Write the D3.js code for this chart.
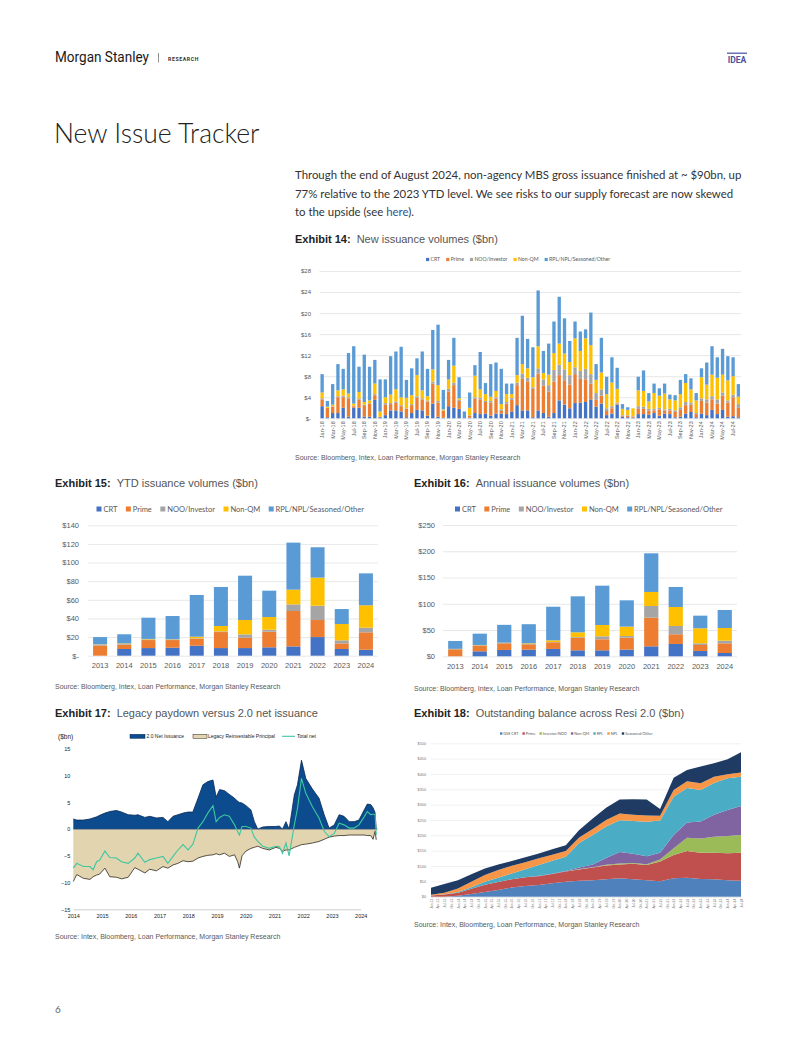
<!DOCTYPE html>
<html><head><meta charset="utf-8">
<script src="https://cdn.jsdelivr.net/npm/d3@7"></script>
<style>
body{margin:0;background:#fff;}
svg{display:block;font-family:Lato,"Noto Sans",sans-serif;}
</style></head><body>
<svg id="page" width="802" height="1037"></svg>
<script>
// ---- shared series ----
var seriesNames = ["CRT","Prime","NOO/Investor","Non-QM","RPL/NPL/Seasoned/Other"];
var seriesColors = ["#4472C4","#ED7D31","#A5A5A5","#FFC000","#5B9BD5"];

// ---- Exhibit 14: monthly new issuance, Jan-18 .. Aug-24 ($bn) ----
var months14 = d3.timeMonth.range(new Date(2018,0,1), new Date(2024,8,1));
var crt14 = [2.3,0.2,1.0,1.0,2.0,0.3,2.0,2.0,0.3,0.3,3.5,0.2, 0.6,1.5,1.5,1.3,0.2,1.0,1.6,1.5,0.5,2.8,0.3,0.1,
  2.3,2.0,1.8,0,0.1,1.0,0.8,0.9,0.5,0.9,0.9,0.8, 1.3,2.5,1.5,1.5,0.2,1.5,1.0,0.3,1.0,3.4,2.6,1.9,
  2.9,3.0,3.1,3.6,2.2,2.8,0.6,0.9,2.6,0.3,0.2,0.1, 0.8,0.8,0.7,1.0,0.5,0.9,0.8,0.2,0.3,0.9,1.2,0.2,
  0.9,0.6,1.6,0.8,1.6,0.3,0.4,0.2];
var prime14 = [1.3,1.8,1.2,3.0,2.0,3.5,0.3,1.6,2.2,2.5,0.9,0.1, 2.0,1.2,1.4,1.0,1.6,1.5,2.3,2.1,2.7,3.8,2.7,1.3,
  2.8,4.3,1.5,0,0.4,2.7,2.8,2.2,2.5,2.8,0.5,2.0, 2.2,3.8,6.0,5.5,5.4,7.0,5.2,4.8,6.0,4.8,4.5,4.5,
  5.5,4.5,4.3,3.0,1.3,1.5,0.8,1.0,0.2,0.2,0.3,0.2, 1.0,1.0,0.8,0.5,1.2,0.6,0.7,1.0,1.3,1.6,1.4,0.6,
  2.4,2.4,2.0,2.0,2.7,2.7,3.6,1.8];
var noo14 = [0.2,0,0.1,0.2,0.3,0.2,0.1,0.2,0.1,0.1,0.2,0, 0.3,0.2,0.3,0.2,0.1,0.2,0.3,0.2,0.2,0.4,0.3,0.1,
  0.5,0.5,0.2,0,0.1,0.3,0.3,0.2,0.3,0.3,0.3,0.3, 0.4,0.5,1.0,0.7,0.3,1.0,1.2,1.2,2.2,2.0,2.2,1.8,
  1.3,1.5,2.0,1.8,1.3,1.2,0.5,0.4,0.2,0.1,0.1,0.1, 0.5,0.4,0.3,0.3,0.3,0.2,0.3,0.3,0.5,0.6,0.4,0.2,
  0.5,0.6,0.6,0.8,0.6,0.4,0.5,0.7];
var nonqm14 = [1.1,0.2,0.3,1.1,1.2,0.7,0.4,1.2,0.5,0.5,2.0,1.0, 1.1,1.6,2.3,1.5,2.0,1.7,4.0,1.5,0.8,2.3,3.0,0.2,
  1.8,3.2,0.3,0,1.4,4.1,1.6,1.3,0.8,1.2,1.0,1.5, 0.7,1.4,1.8,1.8,1.9,4.2,1.2,2.0,3.2,4.0,3.0,2.5,
  5.5,3.8,5.8,5.5,2.5,3.2,2.7,4.5,2.6,1.2,1.0,1.5, 3.0,3.0,1.4,3.0,2.3,3.0,1.8,1.9,2.5,3.6,2.5,2.4,
  4.0,2.8,4.1,4.1,3.4,3.8,3.5,1.4];
var rpl14 = [3.5,1.1,3.9,5.0,3.9,7.7,10.9,4.8,9.0,6.4,4.5,6.1, 3.4,7.3,7.2,9.6,3.4,5.1,3.2,7.4,5.2,7.5,11.5,3.7,
  3.7,5.3,4.0,1.3,2.9,2.0,7.1,2.1,6.2,5.4,6.7,2.0, 2.0,7.1,9.2,5.6,5.7,10.6,4.2,5.9,6.0,8.9,6.7,4.0,
  3.2,3.7,1.7,6.2,3.0,6.6,3.3,4.8,4.0,0.9,0.5,0, 2.6,3.9,1.6,1.8,1.4,1.9,0.9,1.0,2.7,1.7,2.1,1.4,
  1.7,4.2,5.4,3.9,4.9,4.6,3.6,2.4];
var ticks14 = [0,4,8,12,16,20,24,28];

// ---- Exhibit 15 / 16: YTD and annual ($bn) ----
var years = ["2013","2014","2015","2016","2017","2018","2019","2020","2021","2022","2023","2024"];
var crtYtd   = [0,7.2,8.2,8.6,10.7,8.2,8.2,9.0,10.0,20.0,7.2,6.4];
var primeYtd = [11,4.6,8.6,8.2,7.6,17.2,11.1,16.8,38,18.3,6,18.7];
var nooYtd   = [1,0.7,0.7,0.4,0.4,0.7,3.6,2.1,7.1,15.4,3.3,5];
var nonqmYtd = [0.3,0.7,0.5,0.4,1.7,5.8,15.4,13.6,15.8,30.1,17.5,24];
var rplYtd   = [7.7,9.8,22.8,25,44.8,41.9,47.6,28.3,50.5,32.6,16.1,34.3];
var ticksYtd = [0,20,40,60,80,100,120,140];

var crtAnn   = [0,9.5,12.1,12.7,14,11.4,11.4,12.7,19,23.5,10.2,6.3];
var primeAnn = [13.3,10.2,12.6,10.1,12.6,24.1,21,22.8,54.6,18.4,11.4,18.4];
var nooAnn   = [0.5,1.3,0.6,0.6,0.6,1.3,5.7,3.2,22.2,15.8,3.1,5.1];
var nonqmAnn = [0.4,0.6,0.6,1.3,3.2,8.9,21.5,17.8,26.7,36.2,28.6,24.1];
var rplAnn   = [15,21.5,34,36.4,64,68.5,74.9,50.1,73.6,38.1,24.1,34.3];
var ticksAnn = [0,50,100,150,200,250];

// ---- Exhibit 17: legacy paydown vs 2.0 net issuance ($bn) ----
var t17 = [2014.00,2014.12,2014.35,2014.58,2014.69,2014.81,2014.92,2015.10,2015.27,2015.50,2015.68,2015.91,
  2016.14,2016.25,2016.49,2016.66,2016.89,2017.12,2017.29,2017.47,2017.64,2017.82,2017.99,2018.16,2018.34,
  2018.51,2018.68,2018.86,2018.97,2019.09,2019.26,2019.43,2019.61,2019.72,2019.78,2019.87,2020.01,2020.18,
  2020.30,2020.42,2020.59,2020.82,2021.05,2021.17,2021.28,2021.40,2021.51,2021.69,2021.80,2021.94,2022.09,
  2022.32,2022.55,2022.73,2022.90,2023.08,2023.25,2023.42,2023.60,2023.77,2023.94,2024.12,2024.23,2024.35,
  2024.43,2024.50,2024.54];
var net17 = [1.9,1.7,1.7,1.9,2.1,2.3,2.6,3.0,3.3,3.5,3.2,2.7,2.6,2.7,2.2,2.4,2.1,2.2,1.4,2.4,2.7,3.0,3.2,3.2,5.8,
  8.3,8.9,9.2,6.0,7.4,7.2,6.5,5.8,5.2,5.0,4.9,4.4,3.6,1.4,0,0.4,0.5,0.5,0.6,0,1.4,0,6.4,8.3,12.9,9.5,
  7.5,5.8,2.7,0.2,0.8,2.7,2.4,1.4,1.4,1.7,3.6,4.7,4.6,4.0,3.1,0];
var legacy17 = [-9.8,-8.5,-9.2,-9.4,-8.9,-8.6,-8.4,-7.3,-8.9,-9.0,-9.3,-9.0,-7.2,-7.5,-8.2,-7.5,-7.8,-7.0,-7.3,-6.7,
  -6.4,-5.9,-6.1,-6.0,-5.4,-5.1,-4.9,-4.8,-4.6,-4.8,-4.5,-5.1,-4.8,-6.1,-7.3,-5.0,-4.1,-3.6,-3.4,-3.2,-3.6,
  -3.9,-3.4,-3.6,-4.1,-3.9,-3.9,-3.4,-3.2,-2.9,-2.8,-2.6,-2.3,-1.9,-1.5,-1.3,-1.2,-1.2,-1.1,-1.1,-1.1,-1.1,
  -1.2,-1.2,-1.9,-0.4,-2.0];
var total17 = [-7.3,-6.4,-7.0,-7.0,-7.6,-6.1,-5.8,-4.1,-5.3,-5.4,-6.1,-6.4,-5.4,-4.5,-6.2,-5.7,-5.4,-5.1,-6.4,-5.1,
  -3.9,-2.9,-3.9,-2.8,0.2,1.4,3.0,4.4,1.4,2.2,2.7,2.4,0.8,-0.5,-1.1,0.5,0.5,0.2,-1.5,-2.3,-3.2,-3.6,-3.2,
  -3.3,-4.5,-2.6,-5.0,0.8,3.9,9.5,6.7,4.2,2.1,-0.4,-1.4,-0.8,1.1,0.8,0.2,0.2,0.8,2.3,3.3,2.7,2.8,2.8,-1.1];
var years17 = [2014,2015,2016,2017,2018,2019,2020,2021,2022,2023,2024];
var ticks17 = [-15,-10,-5,0,5,10,15];

// ---- Exhibit 18: outstanding balance across Resi 2.0 ($bn), semi-annual ----
var dates18 = [new Date(2013,0,1),new Date(2013,6,1),new Date(2014,0,1),new Date(2014,6,1),new Date(2015,0,1),
  new Date(2015,6,1),new Date(2016,0,1),new Date(2016,6,1),new Date(2017,0,1),new Date(2017,6,1),new Date(2018,0,1),
  new Date(2018,6,1),new Date(2019,0,1),new Date(2019,6,1),new Date(2020,0,1),new Date(2020,6,1),new Date(2021,0,1),
  new Date(2021,6,1),new Date(2022,0,1),new Date(2022,6,1),new Date(2023,0,1),new Date(2023,6,1),new Date(2024,0,1),
  new Date(2024,6,1)];
var names18 = ["GSE CRT","Prime","Investor/NOO","Non-QM","RPL","NPL","Seasoned/Other"];
var colors18 = ["#4F81BD","#C0504D","#9BBB59","#8064A2","#4BACC6","#F79646","#1F3B63"];
var gse18  = [0,0,3,9,15,22,30,35,38,44,49,52,54,57,60,57,54,50,60,62,58,57,54,52];
var prime18= [4,7,10,17,24,26,27,28,29,30,33,37,41,45,45,50,49,65,76,87,85,86,88,91];
var inv18  = [0,0,0,0,0,0,0,0,0,0,0,1,1,2,3,3,3,6,22,43,47,52,56,58];
var nqm18  = [0,0,0,0,0,0,0,0.5,1,1,2,5,9,22,38,30,26,22,43,50,55,72,85,95];
var rpl18  = [0,1,2,5,10,14,19,26,35,42,46,80,96,103,103,107,112,105,125,112,103,104,103,95];
var npl18  = [2,5,12,18,22,25,25,23,22,20,19,18,20,21,22,20,21,16,22,22,22,20,13,14];
var seas18 = [23,28,27,24,21,18,15,16,16,18,19,24,34,40,46,51,52,22,40,37,54,44,49,66];
var ticks18 = [0,50,100,150,200,250,300,350,400,450,500];

var svg = d3.select("#page");
svg.append("rect").attr("width",802).attr("height",1037).attr("fill","#fff");

// ---- page header ----
svg.append("text").attr("x",55).attr("y",62).attr("font-family","Roboto").attr("font-weight",400)
  .attr("font-size",14).attr("fill","#1a1a1a").attr("textLength",94).attr("lengthAdjust","spacingAndGlyphs")
  .text("Morgan Stanley");
svg.append("line").attr("x1",158.5).attr("x2",158.5).attr("y1",53).attr("y2",62.5).attr("stroke","#777").attr("stroke-width",0.8);
svg.append("text").attr("x",168).attr("y",60.5).attr("font-family","Roboto").attr("font-weight",700)
  .attr("font-size",5.2).attr("letter-spacing",0.6).attr("fill","#333").text("RESEARCH");
svg.append("rect").attr("x",727).attr("y",52.5).attr("width",20).attr("height",1.5).attr("fill","#6b6fb5");
svg.append("text").attr("x",737).attr("y",62.5).attr("text-anchor","middle").attr("font-family","Roboto")
  .attr("font-weight",700).attr("font-size",8.5).attr("fill","#4a50a3").text("IDEA");

svg.append("text").attr("x",54).attr("y",142.5).attr("font-weight",300).attr("font-size",26.5)
  .attr("fill","#222").text("New Issue Tracker");

var para = svg.append("text").attr("font-size",11.4).attr("fill","#333");
para.append("tspan").attr("x",295).attr("y",179).text("Through the end of August 2024, non-agency MBS gross issuance finished at ~ $90bn, up");
para.append("tspan").attr("x",295).attr("y",197.5).text("77% relative to the 2023 YTD level. We see risks to our supply forecast are now skewed");
para.append("tspan").attr("x",295).attr("y",216).text("to the upside (see ");
para.append("tspan").attr("fill","#2F5597").text("here");
para.append("tspan").text(").");

function heading(x, y, num, title) {
  var t = svg.append("text").attr("x",x).attr("y",y).attr("font-family","Liberation Sans, Arial").attr("font-size",11);
  t.append("tspan").attr("font-weight",700).attr("fill","#222").text("Exhibit " + num + ":");
  t.append("tspan").attr("dx",6).attr("fill","#555").text(title);
}
function source(x, y, txt) {
  svg.append("text").attr("x",x).attr("y",y).attr("font-family","Liberation Sans, Arial")
    .attr("font-size",7).attr("fill","#595959").text(txt);
}
heading(295,243,"14","New issuance volumes ($bn)");
heading(55,487,"15","YTD issuance volumes ($bn)");
heading(414,487,"16","Annual issuance volumes ($bn)");
heading(55,717,"17","Legacy paydown versus 2.0 net issuance");
heading(414,717,"18","Outstanding balance across Resi 2.0 ($bn)");
source(295,459.5,"Source: Bloomberg, Intex, Loan Performance, Morgan Stanley Research");
source(55,689,"Source: Bloomberg, Intex, Loan Performance, Morgan Stanley Research");
source(414,690.5,"Source: Bloomberg, Intex, Loan Performance, Morgan Stanley Research");
source(55,938.5,"Source: Intex, Bloomberg, Loan Performance, Morgan Stanley Research");
source(414,927,"Source: Intex, Bloomberg, Loan Performance, Morgan Stanley Research");
svg.append("text").attr("x",55).attr("y",1013).attr("font-size",10).attr("fill","#666").text("6");

// legend laid out left to right, square + label
function legend(x0, y, names, colors, fs, sq, gap) {
  var x = x0;
  names.forEach(function(n, i) {
    svg.append("rect").attr("x",x).attr("y",y - sq/2).attr("width",sq).attr("height",sq).attr("fill",colors[i]);
    var t = svg.append("text").attr("x",x + sq + fs*0.25).attr("y",y).attr("dy","0.35em")
      .attr("font-size",fs).attr("fill","#595959").text(n);
    x = x + sq + fs*0.25 + t.node().getComputedTextLength() + gap;
  });
}

// stacked column chart
function stackedBars(cfg) {
  var keys = d3.range(cfg.series.length);
  var rows = cfg.labels.map(function(l, i) {
    var r = {};
    keys.forEach(function(k) { r[k] = cfg.series[k][i]; });
    return r;
  });
  var stacked = d3.stack().keys(keys)(rows);
  var x = d3.scaleBand().domain(d3.range(cfg.labels.length)).range(cfg.xRange).paddingInner(cfg.pad).paddingOuter(cfg.pad/2);
  var y = d3.scaleLinear().domain([0, cfg.ticks[cfg.ticks.length-1]]).range(cfg.yRange);
  var g = svg.append("g");
  var ya = g.append("g").attr("transform","translate(" + cfg.xRange[0] + ",0)")
    .call(d3.axisLeft(y).tickValues(cfg.ticks).tickFormat(cfg.yFmt)
      .tickSize(-(cfg.xRange[1]-cfg.xRange[0])).tickPadding(cfg.yPad));
  ya.select(".domain").remove();
  ya.selectAll(".tick line").attr("stroke","#D9D9D9").attr("stroke-width",0.6);
  ya.selectAll(".tick text").attr("font-size",cfg.fs).attr("fill","#595959").attr("font-family",null);
  g.selectAll(".ser").data(stacked).enter().append("g")
    .attr("fill", function(d, i) { return seriesColors[i]; })
    .selectAll("rect").data(function(d) { return d; }).enter().append("rect")
    .attr("x", function(d, i) { return x(i); })
    .attr("width", x.bandwidth())
    .attr("y", function(d) { return y(d[1]); })
    .attr("height", function(d) { return Math.max(0, y(d[0]) - y(d[1])); });
  var xa = g.append("g").attr("transform","translate(0," + cfg.yRange[0] + ")")
    .call(d3.axisBottom(x).tickValues(cfg.xTicks).tickFormat(function(i) { return cfg.labels[i]; })
      .tickSize(0).tickPadding(cfg.xPad));
  xa.select(".domain").remove();
  xa.selectAll(".tick text").attr("font-size",cfg.xfs).attr("fill","#595959").attr("font-family",null);
  if (cfg.rotate) {
    xa.selectAll(".tick text").attr("transform","rotate(-90)").attr("text-anchor","end")
      .attr("x",-cfg.xPad).attr("y",0).attr("dy","0.35em");
  }
}

var fmtMon = d3.timeFormat("%b-%y");
stackedBars({
  labels: months14.map(fmtMon),
  series: [crt14, prime14, noo14, nonqm14, rpl14],
  xRange: [319.5, 741], yRange: [418.3, 271], pad: 0.37, ticks: ticks14,
  yFmt: function(d) { return d === 0 ? "$-" : "$" + d; }, yPad: 8.5, fs: 6,
  xTicks: d3.range(0, 80, 2), xPad: 3, xfs: 5.5, rotate: true
});
legend(426, 259.5, seriesNames, seriesColors, 5.2, 3.2, 6);

stackedBars({
  labels: years, series: [crtYtd, primeYtd, nooYtd, nonqmYtd, rplYtd],
  xRange: [88, 378], yRange: [655.7, 525.3], pad: 0.42, ticks: ticksYtd,
  yFmt: function(d) { return d === 0 ? "$-" : "$" + d; }, yPad: 9, fs: 7.5,
  xTicks: d3.range(12), xPad: 7, xfs: 7.5, rotate: false
});
legend(96.5, 509, seriesNames, seriesColors, 7.5, 5, 8.5);

stackedBars({
  labels: years, series: [crtAnn, primeAnn, nooAnn, nonqmAnn, rplAnn],
  xRange: [443, 737], yRange: [656.3, 525], pad: 0.42, ticks: ticksAnn,
  yFmt: function(d) { return "$" + d; }, yPad: 8, fs: 7.5,
  xTicks: d3.range(12), xPad: 7, xfs: 7.5, rotate: false
});
legend(455, 509, seriesNames, seriesColors, 7.5, 5, 8.5);

// ---- Exhibit 17 ----
(function() {
  var f = "Liberation Sans, Arial";
  var x = d3.scaleLinear().domain([2014, 2024]).range([73.3, 360.7]);
  var y = d3.scaleLinear().domain([-15, 15]).range([909.3, 749]);
  var pts = t17.map(function(t, i) { return {t: t, net: net17[i], leg: legacy17[i], tot: total17[i]}; });
  var g = svg.append("g").attr("font-family", f);
  g.append("path").datum(pts).attr("fill","#E3D4B0")
    .attr("d", d3.area().x(function(d) { return x(d.t); }).y0(y(0)).y1(function(d) { return y(d.leg); }));
  g.append("path").datum(pts).attr("fill","none").attr("stroke","#2f2a20").attr("stroke-width",0.8)
    .attr("d", d3.line().x(function(d) { return x(d.t); }).y(function(d) { return y(d.leg); }));
  g.append("path").datum(pts).attr("fill","#0B4B8E")
    .attr("d", d3.area().x(function(d) { return x(d.t); }).y0(y(0)).y1(function(d) { return y(d.net); }));
  g.append("path").datum(pts).attr("fill","none").attr("stroke","#062a55").attr("stroke-width",0.8)
    .attr("d", d3.line().x(function(d) { return x(d.t); }).y(function(d) { return y(d.net); }));
  g.append("line").attr("x1",x(2014)).attr("x2",x(2024.6)).attr("y1",y(0)).attr("y2",y(0))
    .attr("stroke","#555").attr("stroke-width",0.5);
  g.append("path").datum(pts).attr("fill","none").attr("stroke","#3CC79F").attr("stroke-width",1.1)
    .attr("d", d3.line().x(function(d) { return x(d.t); }).y(function(d) { return y(d.tot); }));
  var ya = g.append("g").attr("transform","translate(" + x(2014) + ",0)")
    .call(d3.axisLeft(y).tickValues(ticks17).tickSize(0).tickPadding(3));
  ya.select(".domain").remove();
  ya.selectAll(".tick text").attr("font-size",5.5).attr("fill","#222").attr("font-family",null);
  var xa = g.append("g").attr("transform","translate(0," + y(-15) + ")")
    .call(d3.axisBottom(x).tickValues(years17).tickFormat(d3.format("d")).tickSize(0).tickPadding(5));
  xa.select(".domain").attr("stroke","#888").attr("stroke-width",0.4);
  xa.selectAll(".tick text").attr("font-size",5.5).attr("fill","#222").attr("font-family",null);
  g.append("text").attr("x",58).attr("y",739).attr("font-size",6.5).attr("fill","#222").text("($bn)");
  g.append("rect").attr("x",130).attr("y",734.3).attr("width",15).attr("height",4).attr("fill","#0B4B8E").attr("stroke","#062a55").attr("stroke-width",0.5);
  g.append("text").attr("x",146.5).attr("y",738).attr("font-size",5).attr("fill","#222").text("2.0 Net Issuance");
  g.append("rect").attr("x",193).attr("y",734.3).attr("width",14).attr("height",4).attr("fill","#E3D4B0").attr("stroke","#2f2a20").attr("stroke-width",0.5);
  g.append("text").attr("x",208).attr("y",738).attr("font-size",5).attr("fill","#222").text("Legacy Reinvestable Principal");
  g.append("line").attr("x1",282).attr("x2",295).attr("y1",736.3).attr("y2",736.3).attr("stroke","#3CC79F").attr("stroke-width",1.1);
  g.append("text").attr("x",297).attr("y",738).attr("font-size",5).attr("fill","#222").text("Total net");
})();

// ---- Exhibit 18 ----
(function() {
  var x = d3.scaleTime().domain([new Date(2013,0,1), new Date(2024,6,1)]).range([431, 741]);
  var y = d3.scaleLinear().domain([0, 500]).range([896.7, 743.3]);
  var series = [gse18, prime18, inv18, nqm18, rpl18, npl18, seas18];
  var keys = d3.range(series.length);
  var rows = dates18.map(function(d, i) {
    var r = {date: d};
    keys.forEach(function(k) { r[k] = series[k][i]; });
    return r;
  });
  var stacked = d3.stack().keys(keys)(rows);
  var g = svg.append("g");
  var ya = g.append("g").attr("transform","translate(431,0)")
    .call(d3.axisLeft(y).tickValues(ticks18).tickFormat(function(d) { return "$" + d; }).tickSize(-310).tickPadding(5));
  ya.select(".domain").remove();
  ya.selectAll(".tick line").attr("stroke","#E3E3E3").attr("stroke-width",0.5);
  ya.selectAll(".tick text").attr("font-size",3.8).attr("fill","#777").attr("font-family",null);
  var area = d3.area().x(function(d) { return x(d.data.date); })
    .y0(function(d) { return y(d[0]); }).y1(function(d) { return y(d[1]); });
  g.selectAll(".lay").data(stacked).enter().append("path")
    .attr("fill", function(d, i) { return colors18[i]; }).attr("d", area);
  var xa = g.append("g").attr("transform","translate(0,896.7)")
    .call(d3.axisBottom(x).ticks(d3.timeMonth.every(3)).tickFormat(fmtMon).tickSize(0).tickPadding(2));
  xa.select(".domain").attr("stroke","#ccc").attr("stroke-width",0.4);
  xa.selectAll(".tick text").attr("font-size",3.3).attr("fill","#777").attr("font-family",null)
    .attr("transform","rotate(-90)").attr("text-anchor","end").attr("x",-2).attr("y",0).attr("dy","0.35em");
  legend(500, 733.5, names18, colors18, 3.8, 2.4, 4);
})();
</script></body></html>
